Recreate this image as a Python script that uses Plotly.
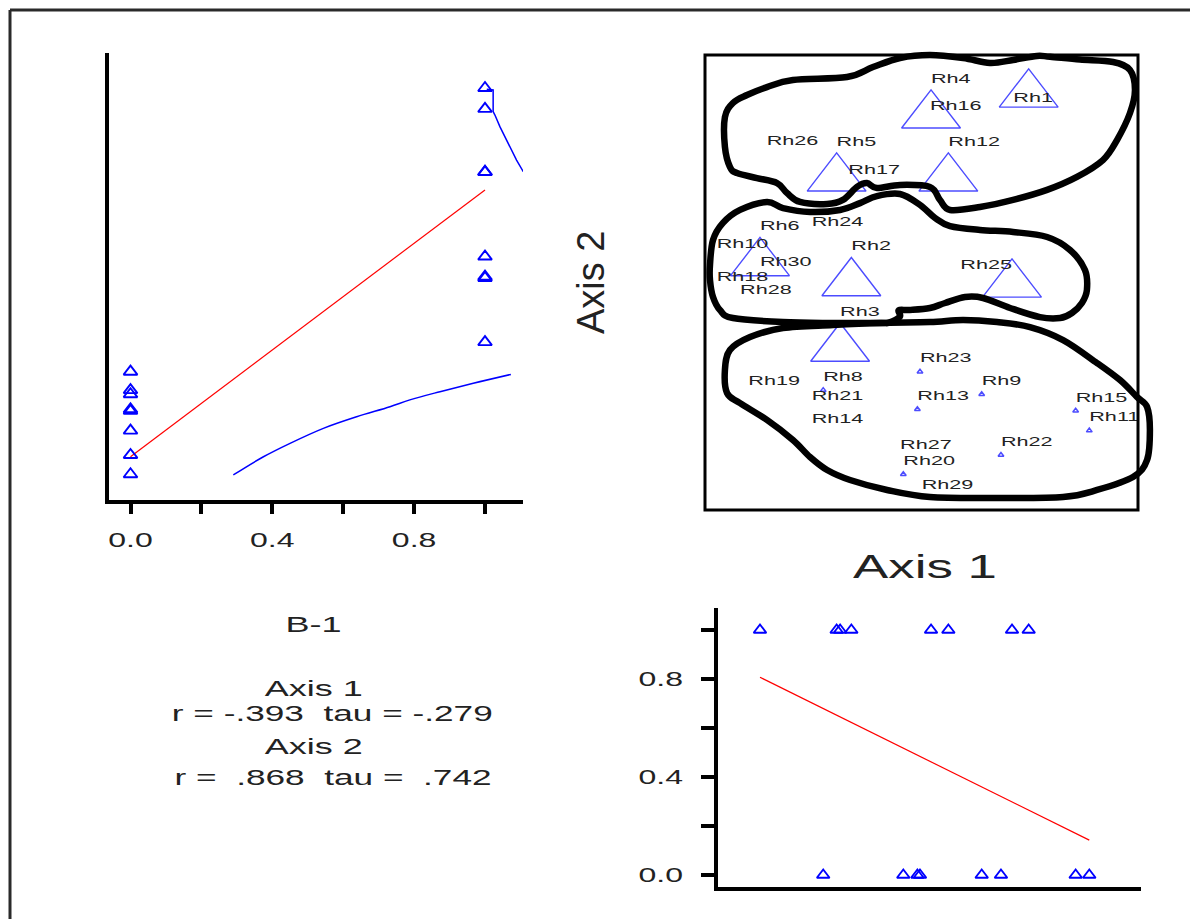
import plotly.graph_objects as go

W, H = 1190, 919

# ---------------- data ----------------
sites = ["Rh1", "Rh2", "Rh3", "Rh4", "Rh5", "Rh6", "Rh7", "Rh8", "Rh9", "Rh10",
         "Rh11", "Rh12", "Rh13", "Rh14", "Rh15", "Rh16", "Rh17", "Rh18", "Rh19", "Rh20",
         "Rh21", "Rh22", "Rh23", "Rh24", "Rh25", "Rh26", "Rh27", "Rh28", "Rh29", "Rh30"]
axis1 = [0.424, -0.324, -0.376, 0.044, -0.392, -0.746, 0.495, -0.454, 0.278, -0.946,
         0.775, 0.124, -0.019, -0.507, 0.712, 0.039, -0.338, -0.946, -0.800, -0.084,
         -0.507, 0.367, -0.007, -0.507, 0.418, -0.715, -0.099, -0.838, 0.001, -0.746]
axis2 = [0.751, 0.026, -0.262, 0.763, 0.486, 0.114, 0.855, -0.473, -0.491, 0.111,
         -0.651, 0.486, -0.557, -0.656, -0.564, 0.719, 0.437, -0.036, -0.490, -0.843,
         -0.556, -0.758, -0.392, 0.206, 0.020, 0.562, -0.773, -0.091, -0.949, 0.033]
b1 = [None, 1, 1, 1, 1, 1, 1, 0, 0, None,
      0, 1, 0, None, 0, None, None, None, None, 0,
      None, 0, 0, None, 1, None, None, None, None, None]

# fitted lines (intercept, slope)
fit_axis2_on_b = (-0.766, 1.173)
fit_b_on_axis1 = (0.481, -0.437)

# smoothers in the B-1 vs Axis 2 panel
smooth_lo_b = [0.290, 0.375, 0.450, 0.544, 0.638, 0.732, 0.788, 0.873, 0.967, 1.073]
smooth_lo_axis2 = [-0.846, -0.766, -0.707, -0.641, -0.590, -0.546, -0.516, -0.480, -0.443, -0.404]
smooth_hi_b = [1.005, 1.023, 1.023, 1.028, 1.042, 1.061, 1.075, 1.089, 1.108]
smooth_hi_axis2 = [0.849, 0.846, 0.751, 0.736, 0.685, 0.626, 0.582, 0.538, 0.487]

# hand-drawn group outlines (ordination units)
group_top_a1 = [-0.908, -0.908, -0.871, -0.806, -0.714, -0.594, -0.344, -0.224, -0.099, 0.039,
                0.192, 0.316, 0.423, 0.533, 0.594, 0.732, 0.885, 0.963, 0.986, 0.963,
                0.903, 0.838, 0.718, 0.580, 0.423, 0.270, 0.132, 0.085, 0.039, -0.099,
                -0.206, -0.252, -0.298, -0.363, -0.436, -0.561, -0.621, -0.667, -0.760, -0.852, -0.885]
group_top_a2 = [0.596, 0.727, 0.789, 0.824, 0.859, 0.890, 0.903, 0.947, 0.987, 1.000,
                0.987, 0.965, 0.978, 0.996, 0.992, 0.980, 0.969, 0.934, 0.846, 0.745,
                0.626, 0.538, 0.464, 0.407, 0.363, 0.332, 0.319, 0.363, 0.420, 0.429,
                0.415, 0.437, 0.420, 0.363, 0.345, 0.354, 0.393, 0.437, 0.459, 0.481, 0.508]
group_mid_a1 = [-0.977, -0.963, -0.917, -0.838, -0.714, -0.640, -0.515, -0.376, -0.284, -0.206,
                -0.099, -0.007, 0.062, 0.132, 0.270, 0.423, 0.580, 0.686, 0.755, 0.764,
                0.741, 0.695, 0.640, 0.547, 0.409, 0.284, 0.201, 0.109, 0.039, -0.055,
                -0.105, -0.100, -0.150, -0.192, -0.409, -0.640, -0.871, -0.931, -0.963, -0.977]
group_mid_a2 = [0.077, 0.187, 0.262, 0.319, 0.354, 0.327, 0.310, 0.319, 0.349, 0.380,
                0.389, 0.341, 0.284, 0.248, 0.231, 0.222, 0.200, 0.143, 0.055, -0.033,
                -0.090, -0.134, -0.156, -0.152, -0.112, -0.068, -0.064, -0.090, -0.112, -0.121,
                -0.122, -0.150, -0.176, -0.178, -0.178, -0.174, -0.156, -0.121, -0.064, 0.011]
group_low_a1 = [-0.885, -0.792, -0.640, -0.409, -0.192, 0.039, 0.192, 0.349, 0.501, 0.654,
                0.811, 0.917, 0.995, 1.042, 1.055, 1.042, 0.977, 0.811, 0.654, 0.349,
                0.039, -0.159, -0.330, -0.436, -0.515, -0.594, -0.714, -0.838, -0.898, -0.908]
group_low_a2 = [-0.297, -0.240, -0.200, -0.187, -0.178, -0.174, -0.165, -0.174, -0.196, -0.253,
                -0.354, -0.429, -0.503, -0.547, -0.648, -0.780, -0.855, -0.912, -0.943, -0.947,
                -0.943, -0.912, -0.868, -0.824, -0.767, -0.692, -0.604, -0.530, -0.486, -0.385]

stats_lines = ["B-1", "Axis 1", "r = -.393  tau = -.279", "Axis 2", "r =  .868  tau =  .742"]
b_ticks = [0.0, 0.2, 0.4, 0.6, 0.8, 1.0]
b_tick_text = ["0.0", "", "0.4", "", "0.8", ""]
flipped_labels = {"Rh25"}      # label drawn to the left of its point
hidden_labels = {"Rh7"}        # label covered by the hand-drawn outline in the original

# ---------------- styles / layout geometry ----------------
BLUE = "#0000ff"
RED = "#ff0000"
TXT = "#222222"
FONT = "Arial, 'Liberation Sans', sans-serif"

ORD_CX, ORD_CY = 921.5, 282.5      # px of ordination origin
ORD_SX, ORD_SY = 216.5, 227.5      # px per ordination unit
B_X0, B_SX = 130.5, 354.5          # B-1 axis (top-left panel)
B_Y0, B_SY = 875.0, 245.0          # B-1 axis (bottom-right panel)
SIZE_MIN, SIZE_MAX = 5, 51


def xdom(a, b):
    return [a / W, b / W]


def ydom(top, bottom):
    return [1 - bottom / H, 1 - top / H]


def ord_x(px):
    return (px - ORD_CX) / ORD_SX


def ord_y(py):
    return (ORD_CY - py) / ORD_SY


def smooth_closed_path(xs, ys, t=1.0):
    n = len(xs)
    p = list(zip(xs, ys))
    d = "M{:.4f},{:.4f}".format(*p[0])
    for i in range(n):
        p0, p1, p2, p3 = p[(i - 1) % n], p[i], p[(i + 1) % n], p[(i + 2) % n]
        c1 = (p1[0] + (p2[0] - p0[0]) * t / 6, p1[1] + (p2[1] - p0[1]) * t / 6)
        c2 = (p2[0] - (p3[0] - p1[0]) * t / 6, p2[1] - (p3[1] - p1[1]) * t / 6)
        d += " C{:.4f},{:.4f} {:.4f},{:.4f} {:.4f},{:.4f}".format(c1[0], c1[1], c2[0], c2[1], p2[0], p2[1])
    return d + " Z"


idx_b = [i for i, v in enumerate(b1) if v is not None]
idx_1 = [i for i in idx_b if b1[i] == 1]
idx_0 = [i for i in idx_b if b1[i] == 0]
shown = [i for i in range(len(sites)) if sites[i] not in hidden_labels]
idx_lab_hi = [i for i in shown if b1[i] == 1 and sites[i] not in flipped_labels]
idx_lab_lo = [i for i in shown if b1[i] != 1 and sites[i] not in flipped_labels]
idx_lab_flip = [i for i in shown if sites[i] in flipped_labels]

fig = go.Figure()

# ---- top-left: B-1 vs Axis 2 ----
fig.add_trace(go.Scatter(
    x=smooth_lo_b, y=smooth_lo_axis2, mode="lines", line=dict(color=BLUE, width=1.5, shape="spline"),
    xaxis="x", yaxis="y", hoverinfo="skip"))
fig.add_trace(go.Scatter(
    x=smooth_hi_b, y=smooth_hi_axis2, mode="lines", line=dict(color=BLUE, width=1.5),
    xaxis="x", yaxis="y", hoverinfo="skip"))
fx = [0.0, 1.0]
fig.add_trace(go.Scatter(
    x=fx, y=[fit_axis2_on_b[0] + fit_axis2_on_b[1] * v for v in fx], mode="lines",
    line=dict(color=RED, width=1.2), xaxis="x", yaxis="y", hoverinfo="skip"))
fig.add_trace(go.Scatter(
    x=[b1[i] for i in idx_b], y=[axis2[i] for i in idx_b], mode="markers",
    marker=dict(symbol="triangle-up-open", size=12, color=BLUE, line=dict(color=BLUE, width=1.9)),
    xaxis="x", yaxis="y", text=[sites[i] for i in idx_b], cliponaxis=False))

# ---- bottom-right: Axis 1 vs B-1 ----
ax_min = min(axis1[i] for i in idx_b)
ax_max = max(axis1[i] for i in idx_b)
fig.add_trace(go.Scatter(
    x=[ax_min, ax_max], y=[fit_b_on_axis1[0] + fit_b_on_axis1[1] * v for v in (ax_min, ax_max)],
    mode="lines", line=dict(color=RED, width=1.2), xaxis="x3", yaxis="y3", hoverinfo="skip"))
fig.add_trace(go.Scatter(
    x=[axis1[i] for i in idx_b], y=[b1[i] for i in idx_b], mode="markers",
    marker=dict(symbol="triangle-up-open", size=11, color=BLUE, line=dict(color=BLUE, width=1.9)),
    xaxis="x3", yaxis="y3", text=[sites[i] for i in idx_b], cliponaxis=False))

# ---- ordination ----
fig.add_trace(go.Scatter(
    x=[axis1[i] for i in idx_0], y=[axis2[i] for i in idx_0], mode="markers",
    marker=dict(symbol="triangle-up-open",
                size=[SIZE_MIN + (SIZE_MAX - SIZE_MIN) * b1[i] for i in idx_0],
                color=BLUE, line=dict(color=BLUE, width=1.5)),
    xaxis="x2", yaxis="y2", text=[sites[i] for i in idx_0], cliponaxis=False))
fig.add_trace(go.Scatter(
    x=[axis1[i] for i in idx_1], y=[axis2[i] for i in idx_1], mode="markers",
    marker=dict(symbol="triangle-up-open",
                size=[SIZE_MIN + (SIZE_MAX - SIZE_MIN) * b1[i] for i in idx_1],
                color=BLUE, line=dict(color=BLUE, width=1.4)),
    xaxis="x2", yaxis="y4", text=[sites[i] for i in idx_1], cliponaxis=False))
lab_font = dict(family=FONT, size=13.5, color=TXT)
fig.add_trace(go.Scatter(
    x=[axis1[i] for i in idx_lab_lo], y=[axis2[i] for i in idx_lab_lo], mode="text",
    text=[sites[i] for i in idx_lab_lo], textposition="middle right", textfont=lab_font,
    xaxis="x2", yaxis="y5", cliponaxis=False, hoverinfo="skip"))
fig.add_trace(go.Scatter(
    x=[axis1[i] for i in idx_lab_flip], y=[axis2[i] for i in idx_lab_flip], mode="text",
    text=[sites[i] for i in idx_lab_flip], textposition="middle left", textfont=lab_font,
    xaxis="x2", yaxis="y5", cliponaxis=False, hoverinfo="skip"))
fig.add_trace(go.Scatter(
    x=[axis1[i] for i in idx_lab_hi], y=[axis2[i] for i in idx_lab_hi], mode="text",
    text=[sites[i] for i in idx_lab_hi], textposition="middle right", textfont=lab_font,
    xaxis="x2", yaxis="y6", cliponaxis=False, hoverinfo="skip"))

# axis ranges
ya_rng = [ord_y(500), ord_y(53)]
xa_rng = [(109 - B_X0) / B_SX, (523 - B_X0) / B_SX]
xo_rng = [ord_x(690), ord_x(1160)]
yo_rng = [ord_y(520), ord_y(45)]
tri_shift = (SIZE_MAX / 2) / 4 / ORD_SY     # centre big triangles on their bounding box
lab_lo_shift = 12.6 / ORD_SY
lab_hi_shift = 29.6 / ORD_SY
xc_rng = [ord_x(718), ord_x(1141)]
yc_rng = [(B_Y0 - 887) / B_SY, (B_Y0 - 608) / B_SY]

axis_common = dict(showgrid=False, zeroline=False, linecolor="black", tickcolor="black")

shapes = [
    # outer border
    dict(type="line", xref="paper", yref="paper", x0=10 / W, x1=10 / W, y0=-0.05, y1=1 - 10 / H,
         line=dict(color="#2a2a2a", width=3)),
    dict(type="line", xref="paper", yref="paper", x0=10 / W, x1=1.05, y0=1 - 10 / H, y1=1 - 10 / H,
         line=dict(color="#2a2a2a", width=3)),
    # ordination frame
    dict(type="rect", xref="x2", yref="y2", x0=-1, x1=1, y0=-1, y1=1,
         line=dict(color="black", width=3), layer="above"),
]
for gx, gy in [(group_top_a1, group_top_a2), (group_mid_a1, group_mid_a2), (group_low_a1, group_low_a2)]:
    shapes.append(dict(type="path", xref="x2", yref="y2", path=smooth_closed_path(gx, gy),
                       line=dict(color="black", width=6.5), layer="above"))

annotations = []
stat_pos = [(313, 624, 22.5), (313, 688, 22.5), (332, 713, 22), (313, 746, 22.5), (333, 777, 22)]
for txt, (cx, cy, fs) in zip(stats_lines, stat_pos):
    annotations.append(dict(text=txt, x=cx / W, y=1 - cy / H, xref="paper", yref="paper",
                            xanchor="center", yanchor="middle", showarrow=False,
                            font=dict(family=FONT, size=fs, color=TXT)))
annotations.append(dict(text="Axis 1", x=925 / W, y=1 - 566 / H, xref="paper", yref="paper",
                        xanchor="center", yanchor="middle", showarrow=False,
                        font=dict(family=FONT, size=33, color=TXT)))
annotations.append(dict(text="Axis 2", x=591 / W, y=1 - 283 / H, xref="paper", yref="paper",
                        xanchor="center", yanchor="middle", showarrow=False, textangle=-90,
                        font=dict(family=FONT, size=38, color=TXT)))

fig.update_layout(
    width=W, height=H, margin=dict(l=0, r=0, t=0, b=0),
    paper_bgcolor="white", plot_bgcolor="rgba(0,0,0,0)", showlegend=False,
    font=dict(family=FONT, color=TXT),
    xaxis=dict(domain=xdom(109, 523), range=xa_rng, anchor="y", showline=True, linewidth=4,
               ticks="outside", ticklen=10, tickwidth=4, tickvals=b_ticks, ticktext=b_tick_text,
               tickfont=dict(family=FONT, size=20, color=TXT), ticklabelstandoff=9, **axis_common),
    yaxis=dict(domain=ydom(53, 500), range=ya_rng, anchor="x", showline=True, linewidth=4,
               ticks="", showticklabels=False, **axis_common),
    xaxis2=dict(domain=xdom(690, 1160), range=xo_rng, anchor="y2", visible=False),
    yaxis2=dict(domain=ydom(45, 520), range=yo_rng, anchor="x2", visible=False),
    yaxis4=dict(overlaying="y2", anchor="x2", range=[yo_rng[0] + tri_shift, yo_rng[1] + tri_shift], visible=False),
    yaxis5=dict(overlaying="y2", anchor="x2", range=[yo_rng[0] - lab_lo_shift, yo_rng[1] - lab_lo_shift], visible=False),
    yaxis6=dict(overlaying="y2", anchor="x2", range=[yo_rng[0] - lab_hi_shift, yo_rng[1] - lab_hi_shift], visible=False),
    xaxis3=dict(domain=xdom(718, 1141), range=xc_rng, anchor="y3", showline=True, linewidth=4,
                ticks="", showticklabels=False, **axis_common),
    yaxis3=dict(domain=ydom(608, 887), range=yc_rng, anchor="x3", showline=True, linewidth=4,
                ticks="outside", ticklen=13, tickwidth=4, tickvals=b_ticks, ticktext=b_tick_text,
                tickfont=dict(family=FONT, size=20, color=TXT), ticklabelstandoff=14, **axis_common),
    shapes=shapes,
    annotations=annotations,
)

post = """
document.body.style.margin = '0';
document.body.style.overflow = 'hidden';
var gd = document.getElementById('{plot_id}');
var K = 1.6;
gd.querySelectorAll('text').forEach(function (t) {
  if (!t.textContent || !t.textContent.trim()) return;
  if (t.closest('[transform*="rotate(-90"]')) return;
  var w = t.getComputedTextLength();
  if (w > 0) {
    t.setAttribute('textLength', (w * K).toFixed(2));
    t.setAttribute('lengthAdjust', 'spacingAndGlyphs');
  }
});
"""

fig.write_html("out.html", config={"displayModeBar": False, "staticPlot": True}, post_script=post)
